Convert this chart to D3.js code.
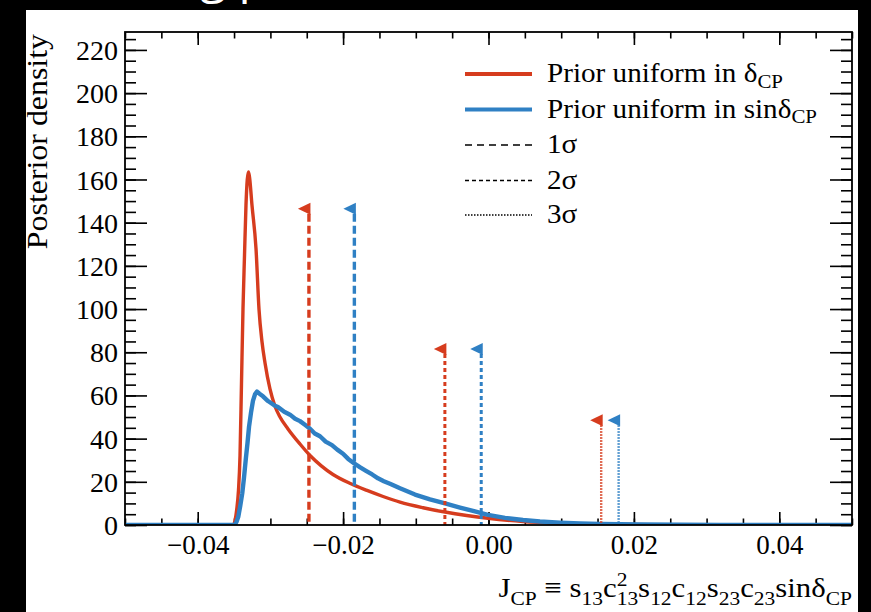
<!DOCTYPE html>
<html>
<head>
<meta charset="utf-8">
<script src="https://cdn.jsdelivr.net/npm/d3@7"></script>
<style>
  html, body { margin: 0; padding: 0; background: #000; }
  svg { display: block; }
  text { font-family: "Liberation Serif", "Times New Roman", serif; fill: #000; }
</style>
</head>
<body>
<svg id="chart" width="871" height="612"></svg>
<script>
// Posterior density of J_CP for two prior choices
const redX = [-0.05, -0.0351, -0.03487, -0.03464, -0.03439, -0.03418, -0.03398, -0.03377, -0.03356, -0.03336, -0.03318, -0.03301, -0.03287, -0.03253, -0.03198, -0.03157, -0.03116, -0.03074, -0.03006, -0.02937, -0.02868, -0.02758, -0.02593, -0.02455, -0.0230, -0.02139, -0.0190, -0.01671, -0.0145, -0.01217, -0.0090, -0.00598, -0.0030, -0.00007, 0.00475, 0.00984, 0.01534, 0.02222, 0.02909, 0.05];
const redY = [0, 0, 2, 7, 16, 32, 65, 100, 125, 148, 160, 163.5, 161, 148, 128, 100, 85, 75, 63, 55, 50, 44.5, 37.5, 32.2, 27.4, 23.4, 19.2, 16.0, 13.2, 10.6, 8.0, 6.0, 4.4, 3.1, 1.6, 0.8, 0.35, 0.1, 0, 0];

const blueX = [-0.05, -0.0349, -0.03466, -0.03442, -0.03414, -0.03387, -0.03363, -0.0334, -0.03315, -0.03294, -0.03267, -0.0324, -0.03212, -0.03184, -0.0315, -0.03102, -0.03033, -0.02937, -0.02896, -0.0281, -0.0273, -0.0266, -0.02593, -0.0252, -0.02455, -0.0239, -0.02318, -0.0224, -0.02153, -0.0208, -0.02001, -0.0193, -0.0185, -0.0177, -0.01685, -0.016, -0.0152, -0.0144, -0.01355, -0.01217, -0.01011, -0.00805, -0.00598, -0.00392, -0.002, -0.00007, 0.00227, 0.00475, 0.00708, 0.00984, 0.01259, 0.01534, 0.02084, 0.02634, 0.03184, 0.03735, 0.05];
const blueY = [0, 0, 1.5, 3.8, 9, 14.7, 22, 30, 38, 45.5, 52, 57.5, 60.5, 61.8, 60.8, 59.6, 57.4, 55.2, 54.6, 52.4, 51.1, 49.2, 48.1, 46.3, 44.6, 42.4, 41.1, 38.6, 37.0, 34.9, 33.0, 30.6, 28.6, 26.8, 25.1, 23.4, 21.6, 20.3, 19.1, 17.0, 14.1, 11.9, 10.0, 8.1, 6.4, 4.7, 3.3, 2.3, 1.6, 1.1, 0.7, 0.5, 0.3, 0.15, 0.05, 0, 0];

// Credible-interval upper edges (1σ, 2σ, 3σ) and arrow heights
const levels = ["1σ", "2σ", "3σ"];
const boundDelta = [-0.0247, -0.0060, 0.0155];
const boundSinDelta = [-0.01845, -0.0010, 0.0179];
const arrowHeights = [146.5, 81.5, 48.5];

const seriesNames = ["Prior uniform in δ", "Prior uniform in sinδ"];
const seriesColors = ["#d63c1e", "#2f80c4"];

const xMajor = [-0.04, -0.02, 0.00, 0.02, 0.04];
const xLabels = ["\u22120.04", "\u22120.02", "0.00", "0.02", "0.04"];
const yMajor = [0, 20, 40, 60, 80, 100, 120, 140, 160, 180, 200, 220];
const yLabels = yMajor.map(String);

const svg = d3.select("#chart");
const W = 871, H = 612;
const L = 125, R = 852, T = 32, B = 525;
const SX = 1.1; // horizontal stretch of the serif text

svg.append("rect").attr("width", W).attr("height", H).attr("fill", "#000");
// slide heading peeking above the panel
svg.append("text").attr("x", 200).attr("y", -7)
  .style("font-family", "'Open Sans', sans-serif").style("font-size", "48px").style("fill", "#fff")
  .text("g p");
svg.append("rect").attr("x", 26).attr("y", 10).attr("width", 832).attr("height", H - 10).attr("fill", "#fff");

const x = d3.scaleLinear().domain([-0.05, 0.05]).range([L, R]);
const y = d3.scaleLinear().domain([0, 228.3]).range([B, T]);

const minorX = d3.range(-0.05, 0.05001, 0.005).map(v => +v.toFixed(4));
const minorY = d3.range(0, 228, 5);

// ticks on all four sides
const tickStyle = g => {
  g.select(".domain").remove();
  g.selectAll(".tick line").attr("stroke", "#000").attr("stroke-width", 1.6);
  g.selectAll(".tick text").style("font-size", "27px").attr("fill", "#000");
};
svg.append("g").attr("transform", `translate(0,${B})`)
  .call(d3.axisBottom(x).tickValues(minorX).tickSize(-6.5).tickFormat("")).call(tickStyle);
svg.append("g").attr("transform", `translate(0,${B})`)
  .call(d3.axisBottom(x).tickValues(xMajor).tickSize(-13).tickPadding(10).tickFormat((d, i) => xLabels[i])).call(tickStyle);
svg.append("g").attr("transform", `translate(0,${T})`)
  .call(d3.axisTop(x).tickValues(minorX).tickSize(-6.5).tickFormat("")).call(tickStyle);
svg.append("g").attr("transform", `translate(0,${T})`)
  .call(d3.axisTop(x).tickValues(xMajor).tickSize(-13).tickFormat("")).call(tickStyle);
svg.append("g").attr("transform", `translate(${L},0)`)
  .call(d3.axisLeft(y).tickValues(minorY).tickSize(-11).tickFormat("")).call(tickStyle);
const yAx = svg.append("g").attr("transform", `translate(${L},0)`)
  .call(d3.axisLeft(y).tickValues(yMajor).tickSize(-22).tickPadding(7).tickFormat((d, i) => yLabels[i])).call(tickStyle);
yAx.selectAll(".tick text").style("font-size", "28px").attr("dy", "0.34em");
svg.append("g").attr("transform", `translate(${R},0)`)
  .call(d3.axisRight(y).tickValues(minorY).tickSize(-11).tickFormat("")).call(tickStyle);
svg.append("g").attr("transform", `translate(${R},0)`)
  .call(d3.axisRight(y).tickValues(yMajor).tickSize(-22).tickFormat("")).call(tickStyle);

// curves
svg.append("clipPath").attr("id", "plotclip").append("rect")
  .attr("x", L).attr("y", T).attr("width", R - L).attr("height", B - T);
const plot = svg.append("g").attr("clip-path", "url(#plotclip)");
const smooth = d3.line().x(d => x(d[0])).y(d => y(d[1])).curve(d3.curveMonotoneX);
const plain = d3.line().x(d => x(d[0])).y(d => y(d[1]));
plot.append("path").datum(d3.zip(redX, redY)).attr("d", smooth)
  .attr("fill", "none").attr("stroke", seriesColors[0]).attr("stroke-width", 3.4).attr("stroke-linejoin", "round");
plot.append("path").datum(d3.zip(blueX, blueY)).attr("d", plain)
  .attr("fill", "none").attr("stroke", seriesColors[1]).attr("stroke-width", 4.4).attr("stroke-linejoin", "round");

// interval boundaries with left-pointing arrow heads
const dashes = ["8,4", "4,3", "1.4,1.6"];
const widths = [3.4, 3.0, 2.4];
[boundDelta, boundSinDelta].forEach((bounds, s) => {
  bounds.forEach((b, i) => {
    const xp = x(b), yt = y(arrowHeights[i]);
    plot.append("line").attr("x1", xp).attr("x2", xp).attr("y1", yt + 5).attr("y2", B)
      .attr("stroke", seriesColors[s]).attr("stroke-width", widths[i]).attr("stroke-dasharray", dashes[i]);
    plot.append("path")
      .attr("d", `M${xp + 1.5},${yt - 6}L${xp + 1.5},${yt + 6}L${xp - 11},${yt}Z`)
      .attr("fill", seriesColors[s]);
  });
});

// frame
svg.append("rect").attr("x", L).attr("y", T).attr("width", R - L).attr("height", B - T)
  .attr("fill", "none").attr("stroke", "#000").attr("stroke-width", 1.8);

// legend
const lg = svg.append("g");
const legRows = [74, 109.5, 145, 180.5, 215];
const legX1 = 465, legX2 = 532, legTX = 547;
seriesNames.forEach((n, i) => {
  lg.append("line").attr("x1", legX1).attr("x2", legX2).attr("y1", legRows[i]).attr("y2", legRows[i])
    .attr("stroke", seriesColors[i]).attr("stroke-width", 4);
  const t = lg.append("text")
    .attr("transform", `translate(${legTX},${legRows[i] + 8}) scale(${SX},1)`).style("font-size", "26.5px");
  t.append("tspan").text(n);
  t.append("tspan").attr("dy", "0.3em").style("font-size", "19px").text("CP");
});
const legDash = ["7,5", "4,3", "1.5,1.5"];
levels.forEach((lv, i) => {
  const yy = legRows[i + 2];
  lg.append("line").attr("x1", legX1).attr("x2", legX2).attr("y1", yy).attr("y2", yy)
    .attr("stroke", "#000").attr("stroke-width", 1.6).attr("stroke-dasharray", legDash[i]);
  lg.append("text").attr("transform", `translate(${legTX},${yy + 8}) scale(${SX},1)`)
    .style("font-size", "26.5px").text(lv);
});

// y-axis title
svg.append("text").attr("transform", `translate(47,34) rotate(-90) scale(${SX},1)`)
  .attr("text-anchor", "end").style("font-size", "29px").text("Posterior density");

// x-axis title, laid out piece by piece and right-aligned to the frame
const titleSize = 28, smallSize = 19.5;
const pieces = [
  { t: "J", k: "n" }, { t: "CP", k: "sub" }, { t: "\u00a0\u2261\u00a0s", k: "n" }, { t: "13", k: "sub" },
  { t: "c", k: "n" }, { t: "2", k: "sup", stack: true }, { t: "13", k: "sub" },
  { t: "s", k: "n" }, { t: "12", k: "sub" }, { t: "c", k: "n" }, { t: "12", k: "sub" },
  { t: "s", k: "n" }, { t: "23", k: "sub" }, { t: "c", k: "n" }, { t: "23", k: "sub" },
  { t: "sin\u03b4", k: "n" }, { t: "CP", k: "sub" }
];
const tg = svg.append("g");
const baseY = 597;
const nodes = pieces.map(p => {
  const el = tg.append("text").style("font-size", (p.k === "n" ? titleSize : smallSize) + "px").text(p.t);
  return { p, el, w: el.node().getComputedTextLength() };
});
let total = 0;
for (let i = 0; i < nodes.length; i++) {
  if (nodes[i].p.stack) { total += Math.max(nodes[i].w, nodes[i + 1].w); i++; }
  else total += nodes[i].w;
}
let cx = 0;
for (let i = 0; i < nodes.length; i++) {
  const n = nodes[i];
  const off = n.p.k === "sub" ? 8 : n.p.k === "sup" ? -11 : 0;
  n.el.attr("x", cx).attr("y", baseY + off);
  if (n.p.stack) {
    const m = nodes[i + 1];
    m.el.attr("x", cx).attr("y", baseY + 8);
    cx += Math.max(n.w, m.w); i++;
  } else cx += n.w;
}
tg.attr("transform", `translate(${R - total * SX},0) scale(${SX},1)`);
</script>
</body>
</html>
